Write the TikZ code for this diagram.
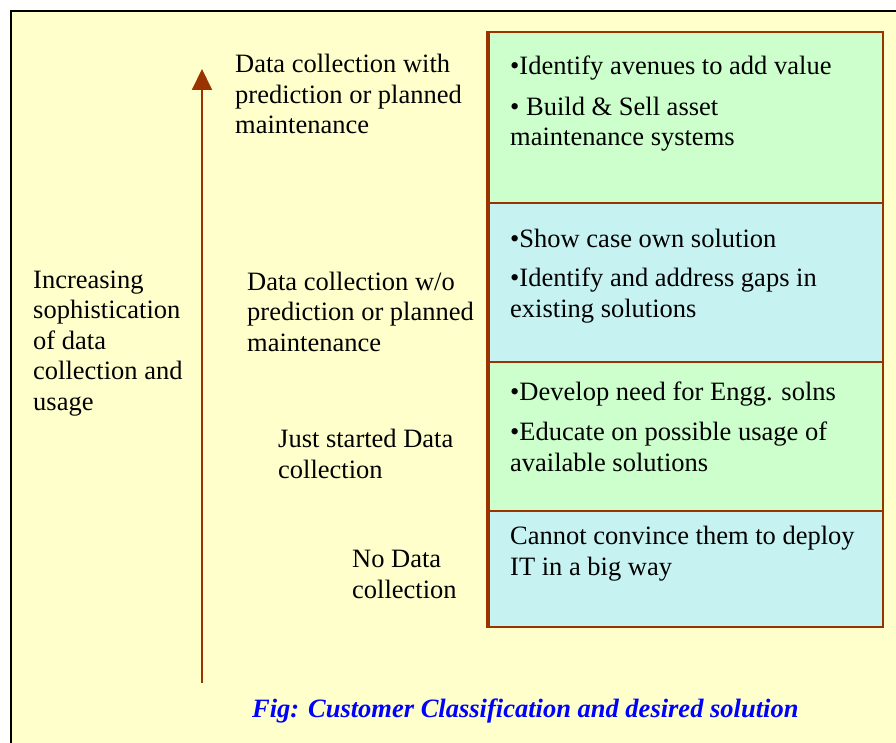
\documentclass[tikz,border=0pt]{standalone}
\usepackage{fontspec}
\setmainfont{Liberation Serif}
\usepackage{xcolor}
\usepackage{tikz}
\usetikzlibrary{arrows.meta,positioning}

\definecolor{paper}{HTML}{FFFFCC}
\definecolor{rust}{HTML}{993300}
\definecolor{mint}{HTML}{CCFFCC}
\definecolor{aqua}{HTML}{C6F2F2}
\definecolor{capblue}{HTML}{0000FF}

\begin{document}
\begin{tikzpicture}[
    x=1pt, y=-1pt,
    % base of a multi-line node = baseline of its last line
    txt/.style={inner sep=0pt, anchor=base west, align=left,
        font=\fontsize{26.5}{30.5}\selectfont},
    stage/.style={draw=rust, line width=2pt, anchor=north west,
        minimum width=394pt, inner sep=0pt},
    arrow/.style={-{Triangle[width=20pt,length=21pt]}, draw=rust, line width=2pt}
]
\useasboundingbox (0,0) rectangle (896,743);
\clip (0,0) rectangle (896,743);
\fill[white] (0,0) rectangle (896,743);
% slide frame
\draw[line width=2pt, fill=paper] (11,11) rectangle (920,770);

% solution boxes
\node[stage, fill=mint, minimum height=171pt] (s1) at (488,31) {};
\node[stage, fill=aqua, minimum height=159pt] (s2) at (488,202) {};
\node[stage, fill=mint, minimum height=149pt] (s3) at (488,361) {};
\node[stage, fill=aqua, minimum height=116pt] (s4) at (488,510) {};
\draw[rust, line width=3.5pt] (s1.north west) -- (s4.south west);

\node[txt] (t1) at (510,146) {\textbullet Identify avenues to add value\\[10pt]
    \textbullet\ Build \& Sell asset\\maintenance systems};
\node[txt] (t2) at (510,317) {\textbullet Show case own solution\\[9pt]
    \textbullet Identify and address gaps in\\existing solutions};
\node[txt] (t3) at (510,471) {\textbullet Develop need for Engg. solns\\[10pt]
    \textbullet Educate on possible usage of\\available solutions};
\node[txt] (t4) at (510,575) {Cannot convince them to deploy\\IT in a big way};

% customer classes
\node[txt] (c1) at (235,134) {Data collection with\\prediction or planned\\maintenance};
\node[txt] (c2) at (247,351) {Data collection w/o\\prediction or planned\\maintenance};
\node[txt] (c3) at (278,478) {Just started Data\\collection};
\node[txt] (c4) at (352,598) {No Data\\collection};

% axis
\coordinate (base) at (202,683);
\coordinate (tip) at (202,69);
\draw[arrow] (base) -- (tip);
\node[txt] (axis) at (33,410) {Increasing\\sophistication\\of data\\collection and\\usage};

\node[txt, font=\fontsize{26.5}{30.5}\selectfont\bfseries\itshape, text=capblue]
    (cap) at (252,717) {Fig: Customer Classification and desired solution};
\end{tikzpicture}
\end{document}
